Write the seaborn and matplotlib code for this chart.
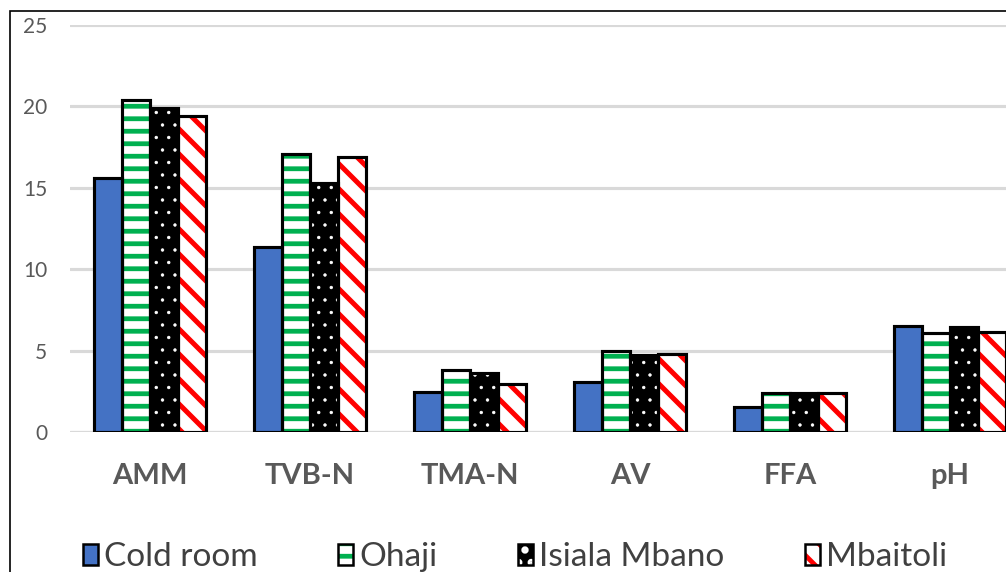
import matplotlib
matplotlib.use("Agg")
import matplotlib.pyplot as plt
from matplotlib.patches import Patch, Rectangle
from matplotlib.legend_handler import HandlerTuple
import numpy as np
import pandas as pd
import seaborn as sns

params = ["AMM", "TVB-N", "TMA-N", "AV", "FFA", "pH"]
sites = ["Cold room", "Ohaji", "Isiala Mbano", "Mbaitoli"]

cold_room = [15.6, 11.35, 2.45, 3.05, 1.55, 6.5]
ohaji = [20.4, 17.1, 3.8, 4.95, 2.4, 6.08]
isiala_mbano = [19.9, 15.3, 3.6, 4.75, 2.4, 6.43]
mbaitoli = [19.4, 16.9, 2.95, 4.8, 2.4, 6.13]

y_ticks = [0, 5, 10, 15, 20, 25]

# face / hatch styling for each site
face_colors = ["#4472c4", "white", "black", "white"]
hatch_colors = ["#4472c4", "#00b050", "white", "#ff0000"]
hatches = ["", "--", "..", "\\\\"]
hatch_lw = [0, 2.3, 0.4, 2.4]

df = pd.DataFrame({
    "param": np.tile(params, len(sites)),
    "site": np.repeat(sites, len(params)),
    "value": np.concatenate([cold_room, ohaji, isiala_mbano, mbaitoli]),
})

sns.set_theme(style="white")
plt.rcParams["font.family"] = ["Lato", "DejaVu Sans"]
plt.rcParams["hatch.linewidth"] = 2.3

DPI = 150
W, H = 1007, 572
fig = plt.figure(figsize=(W / DPI, H / DPI), dpi=DPI)
# plot area runs past the right edge, as in the cropped original
ax = fig.add_axes([70 / W, 1 - 432 / H, 960 / W, (432 - 25) / H])

sns.barplot(data=df, x="param", y="value", hue="site", order=params,
            hue_order=sites, palette=face_colors, width=0.7, gap=0,
            linewidth=0, legend=False, ax=ax)


def style_hatch(p, i):
    p.set_facecolor(face_colors[i])
    p.set_edgecolor(hatch_colors[i])
    p.set_linewidth(0)
    p.set_hatch(hatches[i])
    if hasattr(p, "set_hatch_linewidth") and hatches[i]:
        p.set_hatch_linewidth(hatch_lw[i])


for i, cont in enumerate(ax.containers):
    for bar in cont:
        style_hatch(bar, i)
        ax.add_patch(Rectangle((bar.get_x(), bar.get_y()), bar.get_width(),
                               bar.get_height(), fill=False, ec="black",
                               lw=1.5, zorder=3))

ax.set_xlim(-0.5, 5.5)
ax.set_ylim(0, 25)
ax.set_yticks(y_ticks)
ax.set_xlabel("")
ax.set_ylabel("")
ax.yaxis.grid(True, color="#d9d9d9", linewidth=1.5)
ax.set_axisbelow(True)
for s in ax.spines.values():
    s.set_visible(False)
ax.axhline(0, color="#d9d9d9", linewidth=1.5, zorder=0.5)
ax.tick_params(axis="y", length=0, pad=11, labelsize=10, labelcolor="#595959")
ax.tick_params(axis="x", length=0, pad=15, labelsize=14, labelcolor="#595959")
for lbl in ax.get_xticklabels():
    lbl.set_fontweight("bold")

# legend keys: hatched fill + black outline drawn on top of each other
handles = []
for i, name in enumerate(sites):
    fill = Patch()
    style_hatch(fill, i)
    outline = Patch(fill=False, edgecolor="black", linewidth=1.2)
    handles.append((fill, outline))

leg = fig.legend(handles=handles, labels=sites, loc="center", ncol=4,
                 bbox_to_anchor=(515 / W, 1 - 557 / H), frameon=False,
                 fontsize=16, handlelength=0.45, handleheight=0.6,
                 handletextpad=0.2, columnspacing=2.4,
                 handler_map={tuple: HandlerTuple(ndivide=1, pad=0)})
for t in leg.get_texts():
    t.set_color("#404040")

# outer chart border (cropped on right and bottom)
fig.add_artist(Rectangle((10 / W, -0.1), 1.2, 1 - 11 / H + 0.1,
                         transform=fig.transFigure, fill=False,
                         ec="black", lw=0.8))

fig.savefig("out.png", dpi=DPI)
